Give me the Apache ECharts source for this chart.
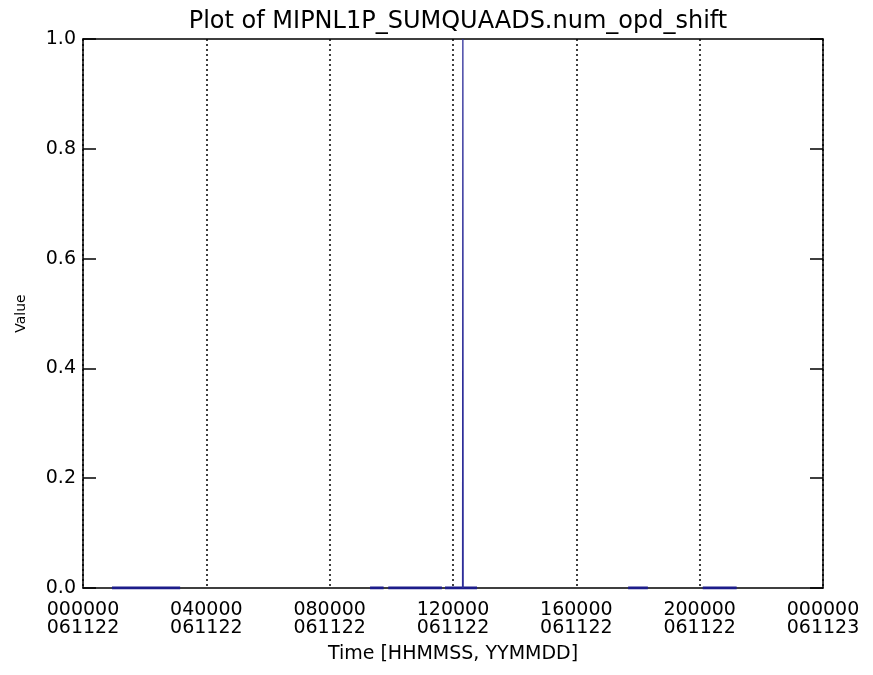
<!DOCTYPE html>
<html>
<head>
<meta charset="utf-8">
<script src="https://cdn.jsdelivr.net/npm/echarts@6/dist/echarts.min.js"></script>
<style>html,body{margin:0;padding:0;background:#fff;}#c{width:873px;height:675px;}</style>
</head>
<body>
<div id="c"></div>
<script>
// Tick labels (hours from 000000 061122)
const tickHours = [0, 4, 8, 12, 16, 20, 24];
const tickTimeLabels = ['000000', '040000', '080000', '120000', '160000', '200000', '000000'];
const tickDateLabels = ['061122', '061122', '061122', '061122', '061122', '061122', '061123'];
const yTicks = [0.0, 0.2, 0.4, 0.6, 0.8, 1.0];

// Zero-level data segments (hours, value); null breaks the line
const baseTimes = [0.94, 3.15, 3.2, 9.31, 9.75, 9.8, 9.9, 11.64, 11.69, 11.74, 12.78, 12.8, 17.68, 18.32, 18.4, 20.1, 21.2];
const baseValues = [0, 0, null, 0, 0, null, 0, 0, null, 0, 0, null, 0, 0, null, 0, 0];

// Single spike near 12:19
const spikeTimes = [12.31, 12.32, 12.33];
const spikeValues = [0, 1, 0];

const chart = echarts.init(document.getElementById('c'));
const font = 'DejaVu Sans';
const pair = (t, v) => t.map((x, i) => [x, v[i]]);
const frameLine = { show: true, onZero: false, lineStyle: { color: '#000', width: 1.5 } };

chart.setOption({
  backgroundColor: '#fff',
  animation: false,
  title: {
    text: 'Plot of MIPNL1P_SUMQUAADS.num_opd_shift',
    left: 453, textAlign: 'center', top: 5,
    textStyle: { fontFamily: font, fontSize: 24, fontWeight: 'normal', color: '#000' }
  },
  grid: { left: 83, right: 50, top: 39, bottom: 87 },
  xAxis: [{
    type: 'value', min: 0, max: 24, interval: 4, position: 'bottom',
    name: 'Time [HHMMSS, YYMMDD]', nameLocation: 'middle', nameGap: 57,
    nameTextStyle: { fontFamily: font, fontSize: 19, color: '#000' },
    axisLine: frameLine,
    axisTick: { show: false },
    splitLine: { show: true, lineStyle: { color: '#000', type: [2, 3], width: 1.5 } },
    axisLabel: {
      fontFamily: font, fontSize: 19, color: '#000', lineHeight: 18, margin: 13,
      formatter: v => { const i = tickHours.indexOf(v); return i < 0 ? '' : tickTimeLabels[i] + '\n' + tickDateLabels[i]; }
    }
  }, {
    type: 'value', min: 0, max: 24, interval: 4, position: 'top',
    axisLine: frameLine,
    axisTick: { show: false }, axisLabel: { show: false }, splitLine: { show: false }
  }],
  yAxis: [{
    type: 'value', min: 0, max: 1, interval: 0.2, position: 'left',
    name: 'Value', nameLocation: 'middle', nameGap: 55, nameRotate: 90,
    nameTextStyle: { fontFamily: font, fontSize: 14, color: '#000' },
    axisLine: frameLine,
    axisTick: { show: true, inside: true, length: 13, lineStyle: { color: '#000', width: 1.5 } },
    splitLine: { show: false },
    axisLabel: { fontFamily: font, fontSize: 19, color: '#000', margin: 7, formatter: v => v.toFixed(1) }
  }, {
    type: 'value', min: 0, max: 1, interval: 0.2, position: 'right',
    axisLine: frameLine,
    axisTick: { show: true, inside: true, length: 13, lineStyle: { color: '#000', width: 1.5 } },
    splitLine: { show: false }, axisLabel: { show: false }
  }],
  series: [{
    type: 'line', xAxisIndex: 0, yAxisIndex: 0, data: pair(baseTimes, baseValues),
    showSymbol: false, symbol: 'none', connectNulls: false,
    lineStyle: { color: '#1c1c8a', width: 3 }, z: 3
  }, {
    type: 'line', xAxisIndex: 0, yAxisIndex: 0, data: pair(spikeTimes, spikeValues),
    showSymbol: false, symbol: 'none',
    lineStyle: { color: '#2e2e9a', width: 1.3 }, z: 4
  }]
});
</script>
</body>
</html>
